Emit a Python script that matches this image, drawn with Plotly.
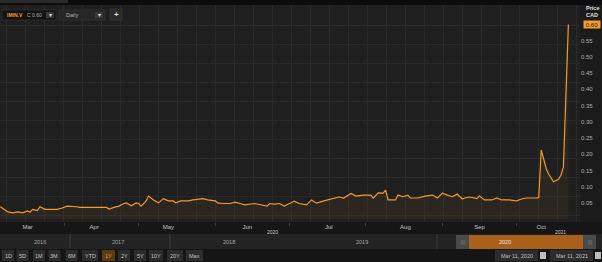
import plotly.graph_objects as go

# ---- data ----
dates = [
    "2020-03-06", "2020-03-09", "2020-03-11", "2020-03-13", "2020-03-15", "2020-03-17",
    "2020-03-18", "2020-03-19", "2020-03-21", "2020-03-22", "2020-03-24", "2020-03-29",
    "2020-03-31", "2020-04-02", "2020-04-06", "2020-04-07", "2020-04-18", "2020-04-19",
    "2020-04-21", "2020-04-23", "2020-04-25", "2020-04-26", "2020-04-28", "2020-04-30",
    "2020-05-01", "2020-05-02", "2020-05-04", "2020-05-05", "2020-05-07", "2020-05-09",
    "2020-05-11", "2020-05-13", "2020-05-15", "2020-05-16", "2020-05-18", "2020-05-21",
    "2020-05-23", "2020-05-27", "2020-05-29", "2020-06-01", "2020-06-02", "2020-06-04",
    "2020-06-07", "2020-06-09", "2020-06-11", "2020-06-13", "2020-06-17", "2020-06-20",
    "2020-06-22", "2020-06-23", "2020-06-25", "2020-06-27", "2020-06-29", "2020-07-01",
    "2020-07-03", "2020-07-05", "2020-07-08", "2020-07-10", "2020-07-12", "2020-07-15",
    "2020-07-18", "2020-07-21", "2020-07-23", "2020-07-26", "2020-07-28", "2020-07-31",
    "2020-08-03", "2020-08-04", "2020-08-06", "2020-08-08", "2020-08-09", "2020-08-10",
    "2020-08-13", "2020-08-14", "2020-08-16", "2020-08-18", "2020-08-19", "2020-08-22",
    "2020-08-25", "2020-08-28", "2020-08-30", "2020-09-01", "2020-09-03", "2020-09-05",
    "2020-09-07", "2020-09-09", "2020-09-10", "2020-09-12", "2020-09-15", "2020-09-16",
    "2020-09-18", "2020-09-21", "2020-09-23", "2020-09-25", "2020-09-28", "2020-10-01",
    "2020-10-03", "2020-10-05", "2020-10-09", "2020-10-10", "2020-10-11", "2020-10-13",
    "2020-10-14", "2020-10-16", "2020-10-18", "2020-10-19", "2020-10-20", "2020-10-22",
]
prices = [
    0.038, 0.022, 0.019, 0.022, 0.019, 0.025,
    0.021, 0.030, 0.026, 0.038, 0.030, 0.030,
    0.034, 0.040, 0.038, 0.036, 0.036, 0.031,
    0.036, 0.040, 0.048, 0.050, 0.041, 0.050,
    0.048, 0.040, 0.056, 0.071, 0.059, 0.050,
    0.063, 0.056, 0.056, 0.050, 0.056, 0.056,
    0.059, 0.063, 0.059, 0.056, 0.050, 0.048,
    0.048, 0.052, 0.048, 0.044, 0.048, 0.044,
    0.040, 0.048, 0.046, 0.048, 0.040, 0.048,
    0.055, 0.048, 0.044, 0.059, 0.049, 0.056,
    0.062, 0.068, 0.065, 0.079, 0.071, 0.074,
    0.074, 0.065, 0.081, 0.080, 0.089, 0.059,
    0.059, 0.074, 0.069, 0.074, 0.065, 0.065,
    0.071, 0.074, 0.065, 0.080, 0.074, 0.069,
    0.077, 0.062, 0.065, 0.068, 0.063, 0.072,
    0.059, 0.059, 0.065, 0.059, 0.059, 0.056,
    0.062, 0.065, 0.065, 0.066, 0.213, 0.156,
    0.139, 0.115, 0.123, 0.136, 0.161, 0.600,
]
month_tick_dates = ["2020-03-17", "2020-04-13", "2020-05-13", "2020-06-14",
                    "2020-07-17", "2020-08-17", "2020-09-16", "2020-10-11"]
month_labels = ["Mar", "Apr", "May", "Jun", "Jul", "Aug", "Sep", "Oct"]
price_ticks = [0.05, 0.10, 0.15, 0.20, 0.25, 0.30, 0.35, 0.40, 0.45, 0.50, 0.55]
last_price = 0.60
nav_years = ["2016", "2017", "2018", "2019", "2020"]
range_buttons = ["1D", "5D", "1M", "3M", "6M", "YTD", "1Y", "2Y", "5Y", "10Y", "20Y", "Max"]
date_from, date_to = "Mar 11, 2020", "Mar 11, 2021"

# ---- geometry helpers (pixel -> paper) ----
W, H = 602, 262
PL, PR, PT, PB = 0, 580, 5, 222
def px(x):
    return (x - PL) / (PR - PL)
def py(y):
    return (PB - y) / (PB - PT)

ORANGE = "#f29a2e"
FONT = "Liberation Sans"

fig = go.Figure()
fig.add_trace(go.Scatter(
    x=dates, y=prices, mode="lines",
    line=dict(color=ORANGE, width=1.2),
    fill="tozeroy", fillcolor="rgba(242,154,46,0.06)",
    hoverinfo="skip", showlegend=False))
# overlay grid axes (square chart grid)
fig.add_trace(go.Scatter(x=[0, 580], y=[0, 217], xaxis="x2", yaxis="y2",
                         mode="markers", marker=dict(opacity=0),
                         hoverinfo="skip", showlegend=False))

fig.update_layout(
    width=W, height=H,
    margin=dict(l=PL, r=W - PR, t=PT, b=H - PB),
    paper_bgcolor="#1b1b1b", plot_bgcolor="#1f1f1f",
    font=dict(family=FONT, color="#b8b8b8", size=6),
    xaxis=dict(
        type="date", range=["2020-03-05 20:00", "2020-10-26 17:00"],
        tickvals=month_tick_dates, ticktext=month_labels,
        showgrid=False, zeroline=False, showline=False, ticks="",
        tickfont=dict(size=6, color="#c4c4c4"),
        minor=dict(ticks="outside", dtick="M1", tick0="2020-03-01",
                   ticklen=3, tickcolor="#3a3a3a", showgrid=False),
    ),
    yaxis=dict(
        range=[-0.009, 0.66], side="right", tickvals=price_ticks,
        tickformat=".2f", showgrid=False, zeroline=False, showline=False,
        ticks="", tickfont=dict(size=6, color="#b0b0b0"),
    ),
    xaxis2=dict(overlaying="x", range=[0, 580], tick0=6.7, dtick=19,
                showgrid=True, gridcolor="#2a2a2a", gridwidth=1,
                showticklabels=False, zeroline=False, ticks=""),
    yaxis2=dict(overlaying="y", range=[217, 0], tick0=20, dtick=19,
                showgrid=True, gridcolor="#2a2a2a", gridwidth=1,
                showticklabels=False, zeroline=False, ticks=""),
)

shapes = []
ann = []
def rect(x0, y0, x1, y1, fill, line=None, layer="above"):
    shapes.append(dict(type="rect", xref="paper", yref="paper",
                       x0=px(x0), x1=px(x1), y0=py(y1), y1=py(y0),
                       fillcolor=fill, line=dict(width=0.8 if line else 0, color=line or fill),
                       layer=layer))
def text(x, y, s, size=6, color="#c0c0c0", xanchor="center", **kw):
    ann.append(dict(xref="paper", yref="paper", x=px(x), y=py(y), text=s,
                    showarrow=False, xanchor=xanchor, yanchor="middle",
                    font=dict(size=size, color=color, family=FONT), **kw))

# top bar
rect(0, -2, 602, 5, "#0c0c0c")
rect(0, -2, 68, 3, "#2a2a2a")
# header controls
rect(2, 10, 56, 20, "#121212", "#303030")
text(5, 15, "<b>IMIN.V</b>", 5, ORANGE, "left")
text(24.5, 15, "C 0.60", 5, "#b0b0b0", "left")
rect(46, 12, 54, 18, "#3a3a3a")
text(50, 15, "▾", 5.5, "#dddddd")
rect(59, 10, 105, 20, "#262626", "#333333")
text(64, 15, "Daily", 5.5, "#b0b0b0", "left")
rect(95, 12, 103, 18, "#3a3a3a")
text(99, 15, "▾", 5.5, "#dddddd")
rect(110, 9, 122, 20, "#2a2a2a", "#353535")
text(116, 14.5, "<b>+</b>", 8, "#e0e0e0")
# price axis header
text(592, 8.5, "<b>Price</b>", 5.5, "#e0e0e0")
text(592, 15.5, "<b>CAD</b>", 5.5, "#e0e0e0")
# last price box
ann.append(dict(xref="paper", yref="y", x=px(583), y=last_price, text=f"{last_price:.2f}",
                showarrow=False, xanchor="left", yanchor="middle", bgcolor=ORANGE,
                width=15, height=6, borderpad=0.5,
                font=dict(size=6, color="#2a1a05", family=FONT)))
# axis band + year labels
rect(0, 222, 602, 234, "#161616", layer="below")
text(272, 232, "2020", 5, "#c8c8c8")
text(560, 232, "2021", 5, "#c8c8c8")
# navigator
rect(0, 234, 602, 249, "#232323")
for xs in [70, 170, 437]:
    shapes.append(dict(type="line", xref="paper", yref="paper", x0=px(xs), x1=px(xs),
                       y0=py(249), y1=py(234), line=dict(color="#3a3a3a", width=1)))
nav_x = [40, 118, 229, 362, 505]
rect(456, 235, 469, 249, "#4a4a4a")
rect(583, 235, 596, 249, "#4a4a4a")
rect(469, 235, 583, 249, "#a9601a")
text(462.5, 242, "|||", 5, "#888888")
text(589.5, 242, "|||", 5, "#888888")
for xv, yr in zip(nav_x, nav_years):
    text(xv, 241.5, yr, 5.5, "#e8e8e8" if yr == "2020" else "#a8a8a8")
# bottom button row
rect(0, 249, 602, 262, "#151515")
btn_x = [8, 22.5, 39, 54.5, 71.5, 90, 108.5, 124, 140, 156, 175, 194.5]
btn_w = [12, 12, 12, 12, 12, 16, 13, 12, 12, 14, 16, 17]
for xv, wv, lab in zip(btn_x, btn_w, range_buttons):
    sel = lab == "1Y"
    rect(xv - wv / 2, 250, xv + wv / 2, 261, "#5a3a12" if sel else "#2c2c2c")
    text(xv, 255.5, lab, 5.5, ORANGE if sel else "#c0c0c0")
rect(495, 250, 538, 261, "#2c2c2c")
text(516.5, 255.5, date_from, 5.5, "#c0c0c0")
rect(540, 252, 546, 259, "#bdbdbd")
rect(550, 250, 593, 261, "#2c2c2c")
text(571.5, 255.5, date_to, 5.5, "#c0c0c0")
rect(595, 252, 601, 259, "#bdbdbd")

fig.update_layout(shapes=shapes, annotations=ann)
fig.write_html("out.html")
